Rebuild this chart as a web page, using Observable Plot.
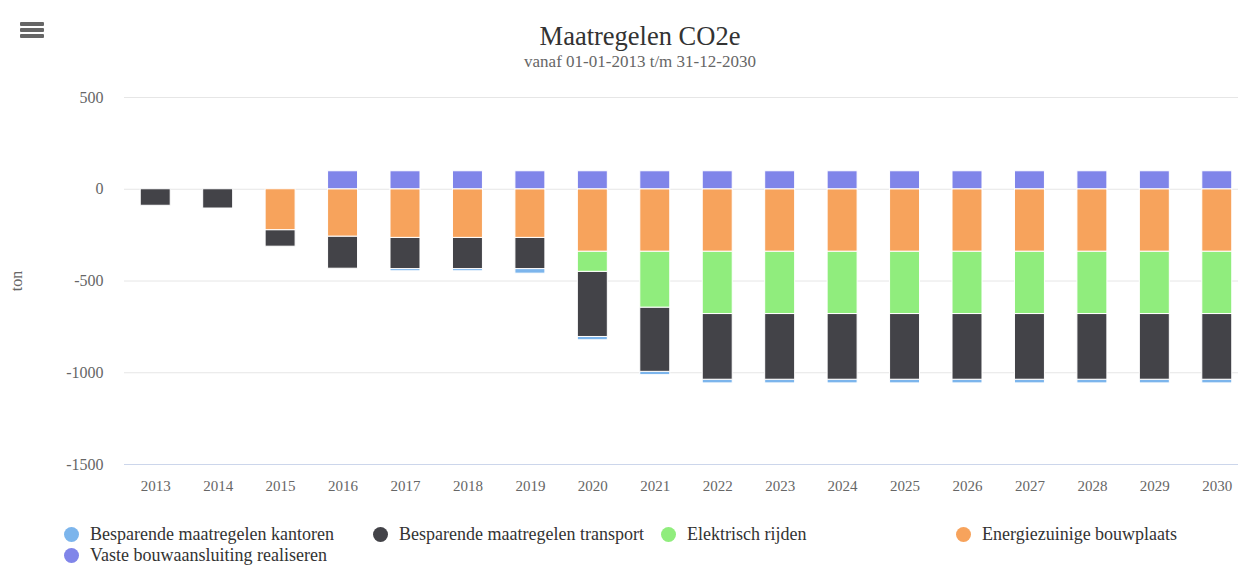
<!DOCTYPE html>
<html>
<head>
<meta charset="utf-8">
<script src="https://cdn.jsdelivr.net/npm/d3@7"></script>
<script src="https://cdn.jsdelivr.net/npm/@observablehq/plot@0.6"></script>
<style>
  html, body { margin: 0; padding: 0; background: #fff; overflow: hidden; }
  #wrap { position: relative; width: 1238px; height: 565px; overflow: hidden; font-family: "Liberation Serif", "Times New Roman", serif; }
  #title { position: absolute; left: 0; width: 1280px; top: 21px; text-align: center; font-size: 26.5px; color: #333; }
  #subtitle { position: absolute; left: 0; width: 1280px; top: 52px; text-align: center; font-size: 17px; color: #666; }
  #menu { position: absolute; left: 20px; top: 22px; width: 24px; }
  #menu div { height: 4px; background: #666; margin-bottom: 2px; border-radius: 1px; }
  #chart { position: absolute; left: 0; top: 80px; width: 1250px; }
  #chart svg { max-width: none !important; }
  .leg { position: absolute; font-size: 18px; color: #333; white-space: nowrap; line-height: 18px; }
  .leg span.dot { position: absolute; left: -26px; top: 2px; width: 15px; height: 15px; border-radius: 50%; }
</style>
</head>
<body>
<div id="wrap">
  <div id="menu"><div></div><div></div><div></div></div>
  <div id="title">Maatregelen CO2e</div>
  <div id="subtitle">vanaf 01-01-2013 t/m 31-12-2030</div>
  <div id="chart"></div>
</div>
<script>
const years = ["2013","2014","2015","2016","2017","2018","2019","2020","2021","2022","2023","2024","2025","2026","2027","2028","2029","2030"];
const seriesNames = ["Besparende maatregelen kantoren", "Besparende maatregelen transport", "Elektrisch rijden", "Energiezuinige bouwplaats", "Vaste bouwaansluiting realiseren"];
const seriesColors = ["#7cb5ec", "#434348", "#90ed7d", "#f7a35c", "#8085e9"];
const kantoren  = [0, 0, 0, 0, -12, -12, -25, -18, -18, -20, -20, -20, -20, -20, -20, -20, -20, -20];
const transport = [-90, -105, -90, -175, -170, -170, -170, -355, -350, -358, -358, -358, -358, -358, -358, -358, -358, -358];
const elektrisch = [0, 0, 0, 0, 0, 0, 0, -110, -305, -340, -340, -340, -340, -340, -340, -340, -340, -340];
const energie   = [0, 0, -223, -258, -265, -265, -265, -340, -340, -340, -340, -340, -340, -340, -340, -340, -340, -340];
const vaste     = [0, 0, 0, 98, 98, 98, 98, 98, 98, 98, 98, 98, 98, 98, 98, 98, 98, 98];
const yTicks = [-1500, -1000, -500, 0, 500];

const seriesValues = [kantoren, transport, elektrisch, energie, vaste];
const rows = [];
seriesNames.forEach((s, i) => {
  years.forEach((y, j) => {
    const v = seriesValues[i][j];
    if (v !== 0) rows.push({year: y, series: s, value: v});
  });
});
// stacking order from zero outward (as in the original)
const stackOrder = ["Energiezuinige bouwplaats", "Elektrisch rijden", "Besparende maatregelen transport", "Besparende maatregelen kantoren", "Vaste bouwaansluiting realiseren"];

const chart = Plot.plot({
  width: 1250,
  height: 430,
  marginLeft: 124,
  marginRight: 2,
  marginTop: 17,
  marginBottom: 46,
  style: {fontFamily: "'Liberation Serif', 'Times New Roman', serif", fontSize: "15px", color: "#666", background: "transparent", maxWidth: "none"},
  x: {domain: years, paddingInner: 0.52, paddingOuter: 0.26, round: false, label: null},
  y: {domain: [-1500, 500], ticks: yTicks, label: null},
  color: {domain: seriesNames, range: seriesColors},
  marks: [
    Plot.ruleY(yTicks.filter(d => d !== -1500), {stroke: "#e6e6e6", strokeWidth: 1}),
    Plot.ruleY([-1500], {stroke: "#ccd6eb", strokeWidth: 1}),
    Plot.barY(rows, Plot.stackY({
      x: "year", y: "value", fill: "series",
      order: stackOrder,
      stroke: "white", strokeWidth: 1
    })),
    Plot.axisX({tickSize: 0, tickPadding: 16, fontSize: 15, fill: "#666", label: null}),
    Plot.axisY({ticks: yTicks, tickSize: 0, tickPadding: 21, tickFormat: d => String(d), fontSize: 16, fill: "#666",
      label: "ton", labelAnchor: "center", labelArrow: "none", labelOffset: 114})
  ]
});
document.getElementById("chart").appendChild(chart);

// legend
const legendPos = [
  {x: 90, y: 525}, {x: 399, y: 525}, {x: 687, y: 525}, {x: 982, y: 525}, {x: 90, y: 546}
];
seriesNames.forEach((s, i) => {
  const d = document.createElement("div");
  d.className = "leg";
  d.style.left = legendPos[i].x + "px";
  d.style.top = legendPos[i].y + "px";
  const dot = document.createElement("span");
  dot.className = "dot";
  dot.style.background = seriesColors[i];
  d.appendChild(dot);
  d.appendChild(document.createTextNode(s));
  document.getElementById("wrap").appendChild(d);
});
</script>
</body>
</html>
